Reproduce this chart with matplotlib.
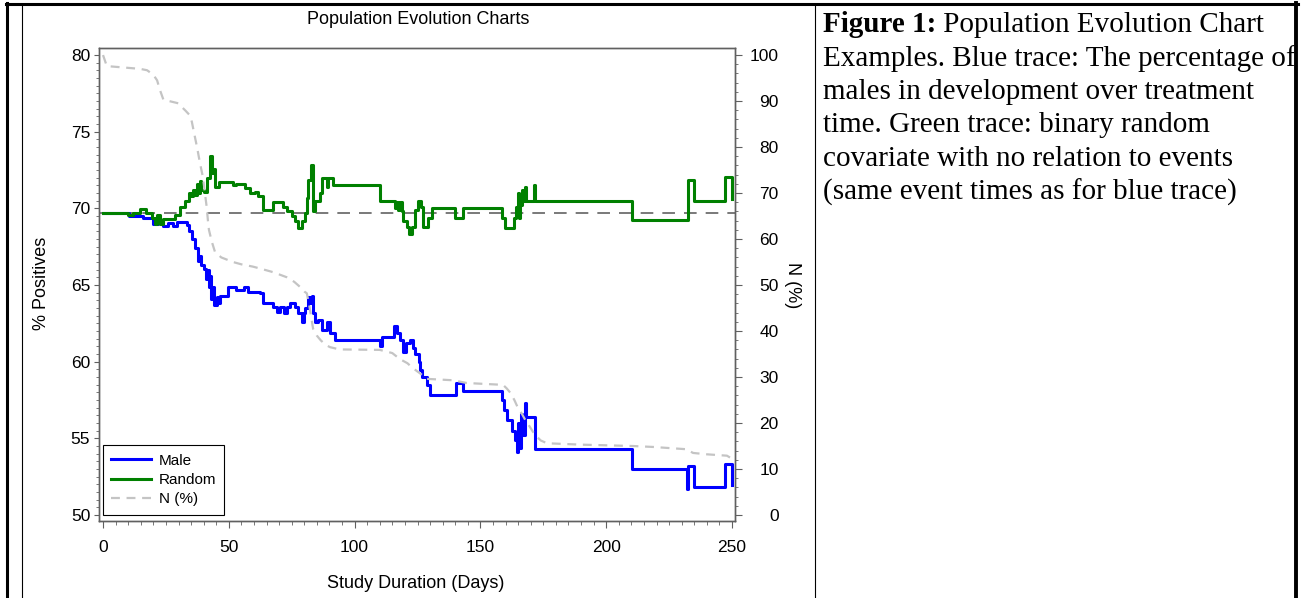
import numpy as np
import matplotlib.pyplot as plt
from matplotlib.lines import Line2D
from matplotlib.ticker import MultipleLocator
from matplotlib.transforms import Bbox

plt.rcParams['font.family'] = ['Liberation Sans', 'DejaVu Sans']

# Male (% positives), step function over study days (rows of 10)
male_days = [0, 10.5, 16, 20, 22, 24, 26, 28, 29.5, 33.3,
             34.2, 35.5, 36.4, 37.6, 38.3, 39.0, 40.2, 41.0, 41.5, 42.0,
             42.5, 43.0, 43.6, 44.2, 45.3, 46.0, 46.6, 49.8, 53.0, 56.0,
             57.6, 62.4, 63.7, 67.7, 69.0, 70.4, 71.8, 73.0, 74.3, 76.3,
             77.5, 79.0, 79.7, 80.3, 81.5, 82.3, 83.0, 83.5, 84.2, 85.5,
             86.9, 88.9, 90.2, 92.2, 110.1, 110.8, 115.8, 116.9, 118.2, 119.4,
             120.6, 122.0, 123.3, 124.2, 125.4, 126.0, 126.7, 128.6, 130.0, 140.2,
             143.2, 158.4, 159.4, 160.4, 162.4, 163.7, 164.6, 165.0, 165.5, 166.0,
             166.4, 167.9, 168.3, 171.8, 210.1, 232.2, 232.6, 235.0, 247.2, 250.1]
male_pct = [69.7, 69.5, 69.37, 68.95, 69.15, 68.85, 69.05, 68.85, 69.1, 68.9,
            68.55, 68.0, 67.4, 66.6, 66.9, 66.3, 66.05, 65.4, 66.0, 64.9,
            65.6, 64.1, 64.9, 63.7, 64.2, 63.8, 64.3, 64.85, 64.7, 64.85,
            64.55, 64.45, 63.85, 63.6, 63.25, 63.6, 63.2, 63.6, 63.8, 63.55,
            63.2, 62.6, 63.2, 63.5, 64.2, 63.8, 64.3, 63.2, 62.6, 62.75,
            62.05, 62.6, 61.85, 61.4, 61.0, 61.6, 62.3, 61.9, 61.4, 60.6,
            61.2, 61.4, 60.9, 60.5, 60.0, 59.45, 59.0, 58.5, 57.8, 58.6,
            58.1, 57.5, 56.85, 56.2, 55.5, 54.9, 54.1, 56.0, 54.4, 56.6,
            55.2, 57.3, 56.4, 54.3, 52.97, 51.7, 53.2, 51.85, 53.3, 51.95]

# Random binary covariate (% positives), same event times
random_days = [0, 10.0, 12.0, 14.7, 17.2, 19.5, 20.5, 21.3, 22.5, 24.0,
               28.6, 30.5, 32.6, 34.0, 35.0, 35.8, 36.5, 37.2, 37.8, 38.4,
               39.0, 40.3, 41.2, 42.6, 43.3, 43.9, 44.6, 46.0, 51.8, 53.0,
               56.4, 58.4, 60.5, 61.7, 63.6, 67.7, 71.5, 73.0, 75.0, 76.3,
               77.5, 79.0, 80.3, 80.9, 81.6, 82.6, 83.3, 84.2, 86.3, 86.9,
               88.9, 89.5, 91.6, 110.1, 116.0, 116.6, 117.3, 118.0, 118.7, 119.4,
               120.7, 121.8, 122.8, 124.0, 125.0, 126.3, 127.3, 129.3, 130.6, 140.0,
               143.2, 158.4, 159.8, 163.2, 164.2, 164.9, 165.3, 165.8, 166.4, 167.0,
               167.7, 168.3, 171.3, 171.8, 210.1, 232.4, 235.0, 247.2, 250.1]
random_pct = [69.7, 69.6, 69.7, 69.93, 69.7, 69.4, 69.0, 69.6, 69.0, 69.3,
              69.6, 70.1, 70.5, 71.0, 70.8, 71.2, 70.9, 71.6, 71.0, 71.8,
              71.2, 71.1, 72.0, 73.4, 72.3, 72.6, 71.4, 71.75, 71.5, 71.6,
              71.3, 70.98, 71.1, 70.8, 69.9, 70.4, 70.1, 69.8, 69.5, 69.2,
              68.7, 69.2, 69.7, 70.7, 71.85, 72.8, 69.8, 70.5, 71.0, 71.95,
              71.4, 71.95, 71.5, 70.45, 70.0, 70.4, 69.9, 70.4, 69.8, 69.2,
              68.8, 68.3, 68.8, 69.9, 70.5, 70.1, 68.8, 69.35, 70.0, 69.35,
              70.0, 69.35, 68.7, 69.4, 70.1, 71.0, 69.4, 70.2, 71.2, 70.5,
              71.4, 70.5, 71.5, 70.5, 69.24, 71.85, 70.5, 72.07, 70.6]

# N (%) still in the study
n_days = [0, 1.5, 14.7, 17.5, 20.0, 21.5, 22.5, 24.0, 30.0, 31.5,
          32.8, 34.5, 35.3, 36.0, 36.6, 37.5, 38.3, 39.0, 39.7, 40.5,
          41.2, 41.7, 42.1, 43.2, 44.5, 47.0, 51.7, 55.0, 59.6, 63.0,
          67.6, 73.0, 76.0, 78.3, 80.0, 81.0, 82.0, 82.6, 83.5, 85.0,
          86.5, 88.5, 90.2, 94.0, 110.0, 113.0, 115.0, 118.0, 121.0, 123.0,
          126.0, 128.8, 139.0, 144.6, 159.0, 160.5, 162.0, 163.5, 165.0, 166.5,
          168.0, 169.5, 171.0, 172.5, 174.0, 176.5, 190.0, 210.7, 218.6, 232.0,
          234.5, 240.0, 248.0, 250.1]
n_pct = [100, 97.6, 97.0, 96.7, 95.7, 94.5, 92.6, 90.3, 89.5, 88.6,
         87.9, 86.9, 85.5, 83.6, 82.0, 79.6, 77.2, 75.3, 73.5, 70.0,
         67.0, 64.0, 62.0, 59.5, 57.2, 56.0, 55.0, 54.5, 54.0, 53.5,
         52.8, 51.7, 50.7, 49.6, 48.6, 48.2, 45.5, 43.5, 40.5, 39.0,
         38.0, 37.0, 36.5, 36.0, 35.9, 35.5, 35.2, 33.9, 33.0, 32.0,
         30.8, 29.6, 29.3, 28.7, 28.3, 27.5, 26.5, 25.0, 23.2, 22.0,
         20.5, 19.3, 18.0, 17.0, 16.2, 15.6, 15.3, 15.0, 14.8, 14.3,
         13.5, 13.2, 12.9, 12.2]

ref_level = 69.7

caption_bold = "Figure 1:"
caption_lines = [" Population Evolution Chart",
                 "Examples. Blue trace: The percentage of",
                 "males in development over treatment",
                 "time. Green trace: binary random",
                 "covariate with no relation to events",
                 "(same event times as for blue trace)"]

W, H = 1310, 598
fig = plt.figure(figsize=(W / 100, H / 100), dpi=100)


def fx(px):
    return px / W


def fy(py):
    return 1 - py / H


ax = fig.add_axes([fx(99), fy(521), fx(735) - fx(99), fy(48) - fy(521)])
ax2 = ax.twinx()

spine_col = '#606060'
ax.axhline(ref_level, color='#6e6e6e', lw=1.3, dashes=(7, 5), zorder=1)
ax.plot(male_days, male_pct, drawstyle='steps-post', color='#0000ff', lw=2.2, zorder=2)
ax.plot(random_days, random_pct, drawstyle='steps-post', color='#008000', lw=2.2, zorder=3)
ax2.plot(n_days, n_pct, color='#c4c4c4', lw=1.6, dashes=(4, 3))

ax.set_xlim(-1.6, 251.2)
ax.set_ylim(49.61, 80.46)
ax2.set_ylim((49.61 - 50) * 100 / 30, (80.46 - 50) * 100 / 30)

ax.set_xticks([0, 50, 100, 150, 200, 250])
ax.xaxis.set_minor_locator(MultipleLocator(5))
ax.set_yticks([50, 55, 60, 65, 70, 75, 80])
ax.yaxis.set_minor_locator(MultipleLocator(0.5))
ax2.set_yticks(range(0, 101, 10))
ax2.yaxis.set_minor_locator(MultipleLocator(2))

for a in (ax, ax2):
    for s in a.spines.values():
        s.set_color(spine_col)
        s.set_linewidth(1)

ax.tick_params(axis='y', which='major', length=3.3, width=0.8, color=spine_col,
               labelsize=12.5, pad=3)
ax.tick_params(axis='y', which='minor', length=2, width=0.6, color=spine_col)
ax.tick_params(axis='x', which='major', length=5, width=0.8, color=spine_col,
               labelsize=12.5, pad=8.5)
ax.tick_params(axis='x', which='minor', length=3, width=0.6, color=spine_col)
ax2.tick_params(axis='y', which='major', length=5, width=0.8, color=spine_col,
                labelsize=12.5, pad=26.5)
ax2.tick_params(axis='y', which='minor', length=2.5, width=0.6, color=spine_col)
for lab in ax2.get_yticklabels():
    lab.set_horizontalalignment('right')

handles = [Line2D([], [], color='#0000ff', lw=2.2),
           Line2D([], [], color='#008000', lw=2.2),
           Line2D([], [], color='#c4c4c4', lw=1.6, dashes=(4, 3))]
leg = ax2.legend(handles, ['Male', 'Random', 'N (%)'], loc='lower left',
                 bbox_to_anchor=(0.006, 0.013), borderaxespad=0, fontsize=11,
                 fancybox=False, framealpha=1, edgecolor='black', handlelength=2.6,
                 handletextpad=0.5, labelspacing=0.35, borderpad=0.55)
leg.get_frame().set_linewidth(0.8)

fig.text(fx(418), fy(19), 'Population Evolution Charts', fontsize=13,
         ha='center', va='center')
fig.text(fx(416), fy(583), 'Study Duration (Days)', fontsize=13, ha='center', va='center')
fig.text(fx(41), fy(283), '% Positives', fontsize=13, rotation=90, ha='center', va='center')
fig.text(fx(792), fy(285), 'N (%)', fontsize=13, rotation=270, ha='center', va='center')

# caption cell on the right
serif = ['Liberation Serif', 'DejaVu Serif']
baselines = [32, 65.5, 99, 132.5, 166, 199.5]
clip = Bbox.from_extents(0, 0, 1294, H)
tb = fig.text(fx(823), fy(baselines[0]), caption_bold, family=serif, fontsize=21,
              weight='bold', va='baseline')
renderer = fig.canvas.get_renderer()
bx = tb.get_window_extent(renderer).x1
for i, line in enumerate(caption_lines):
    x0 = bx if i == 0 else 823
    t = fig.text(fx(x0), fy(baselines[i]), line, family=serif, fontsize=21, va='baseline')
    t.set_clip_box(clip)
    t.set_clip_on(True)


# table borders
def hline(y, x0, x1, lw):
    fig.add_artist(Line2D([fx(x0), fx(x1)], [fy(y), fy(y)], color='black', lw=lw,
                          transform=fig.transFigure))


def vline(x, y0, y1, lw):
    fig.add_artist(Line2D([fx(x), fx(x)], [fy(y0), fy(y1)], color='black', lw=lw,
                          transform=fig.transFigure))


hline(4, 6, 1298, 2.2)
vline(7, 3, 598, 2.2)
vline(22, 4, 598, 0.8)
vline(815, 4, 598, 0.8)
vline(1296, 3, 598, 2.8)

fig.savefig('out.png', dpi=100)
